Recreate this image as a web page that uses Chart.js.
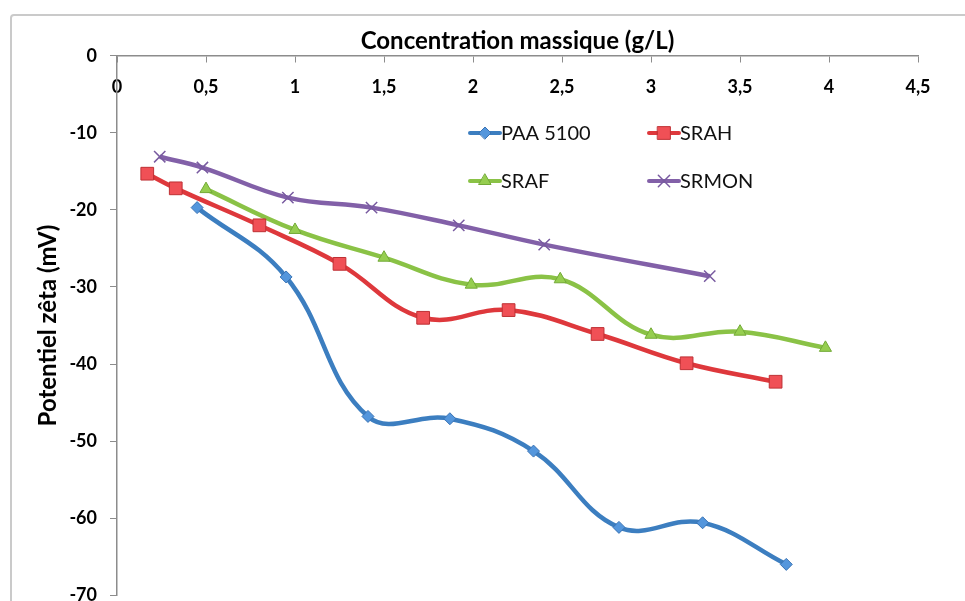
<!DOCTYPE html>
<html>
<head>
<meta charset="utf-8">
<title>Potentiel zêta</title>
<script src="https://cdn.jsdelivr.net/npm/chart.js@4.4.1/dist/chart.umd.min.js"></script>
<style>
  html, body { margin: 0; padding: 0; background: #fff; overflow: hidden; }
  #wrap { position: relative; width: 965px; height: 619px; }
  #frame {
    position: absolute; left: 10px; top: 14px;
    width: 1000px; height: 700px;
    border: 2px solid #cacaca; border-radius: 4px; box-sizing: border-box;
  }
  canvas { position: absolute; left: 0; top: 0; }
</style>
</head>
<body>
<div id="wrap">
  <div id="frame"></div>
  <canvas id="myChart" width="965" height="619"></canvas>
</div>
<script>
// concentration (g/L) and zeta potential (mV) for each product
let paaX = [0.45, 0.95, 1.41, 1.87, 2.34, 2.82, 3.29, 3.76];
let paaY = [-19.7, -28.7, -46.8, -47.1, -51.3, -61.2, -60.6, -66.0];

let srahX = [0.17, 0.33, 0.80, 1.25, 1.72, 2.20, 2.70, 3.20, 3.70];
let srahY = [-15.3, -17.2, -22.0, -27.0, -34.0, -33.0, -36.1, -39.9, -42.3];

let srafX = [0.50, 1.00, 1.50, 1.99, 2.49, 3.00, 3.50, 3.98];
let srafY = [-17.3, -22.6, -26.2, -29.7, -29.0, -36.2, -35.8, -37.9];

let srmonX = [0.24, 0.48, 0.96, 1.43, 1.92, 2.40, 3.33];
let srmonY = [-13.1, -14.5, -18.4, -19.7, -22.0, -24.5, -28.6];

let seriesNames = ["PAA 5100", "SRAH", "SRAF", "SRMON"];

function toPoints(xs, ys) {
	return xs.map(function (x, i) {
		return { x: x, y: ys[i] };
	});
}

const FONT = "Lato, 'Open Sans', sans-serif";

// legend drawn inside the plot, two columns, line + marker like the series
const insideLegend = {
	id: "insideLegend",
	afterDraw(chart) {
		const ctx = chart.ctx;
		const spots = [[470, 133], [649, 133], [470, 181], [649, 181]];
		chart.data.datasets.forEach(function (ds, i) {
			const [lx, ly] = spots[i];
			ctx.save();
			ctx.strokeStyle = ds.borderColor;
			ctx.lineWidth = 4;
			ctx.lineCap = "round";
			ctx.beginPath();
			ctx.moveTo(lx, ly);
			ctx.lineTo(lx + 30, ly);
			ctx.stroke();
			ctx.fillStyle = ds.pointBackgroundColor;
			ctx.strokeStyle = ds.pointBorderColor;
			ctx.lineWidth = ds.pointBorderWidth;
			Chart.helpers.drawPoint(ctx, {
				pointStyle: ds.pointStyle,
				radius: ds.pointRadius,
				borderWidth: ds.pointBorderWidth,
				rotation: 0
			}, lx + 15, ly);
			ctx.fillStyle = "#111";
			ctx.font = "20px " + FONT;
			ctx.textBaseline = "middle";
			ctx.textAlign = "left";
			ctx.fillText(ds.label, lx + 31, ly + 1);
			ctx.restore();
		});
	}
};

var ctx = document.getElementById("myChart");
var chart = new Chart(ctx, {
	type: "line",
	data: {
		datasets: [
			{
				label: seriesNames[0],
				data: toPoints(paaX, paaY),
				borderColor: "rgb(60, 126, 192)",
				borderWidth: 4.5,
				pointStyle: "rectRot",
				pointRadius: 6,
				pointBackgroundColor: "rgb(84, 150, 220)",
				pointBorderColor: "rgb(58, 115, 180)",
				pointBorderWidth: 1
			},
			{
				label: seriesNames[1],
				data: toPoints(srahX, srahY),
				borderColor: "rgb(222, 56, 60)",
				borderWidth: 4.5,
				pointStyle: "rect",
				pointRadius: 9,
				pointBackgroundColor: "rgb(240, 80, 86)",
				pointBorderColor: "rgb(190, 48, 52)",
				pointBorderWidth: 1
			},
			{
				label: seriesNames[2],
				data: toPoints(srafX, srafY),
				borderColor: "rgb(138, 194, 70)",
				borderWidth: 4.5,
				pointStyle: "triangle",
				pointRadius: 7,
				pointBackgroundColor: "rgb(150, 206, 80)",
				pointBorderColor: "rgb(115, 170, 55)",
				pointBorderWidth: 1
			},
			{
				label: seriesNames[3],
				data: toPoints(srmonX, srmonY),
				borderColor: "rgb(130, 96, 168)",
				borderWidth: 4.5,
				pointStyle: "crossRot",
				pointRadius: 8,
				pointBackgroundColor: "rgb(120, 90, 160)",
				pointBorderColor: "rgb(120, 90, 160)",
				pointBorderWidth: 1.5
			}
		]
	},
	options: {
		responsive: false,
		animation: false,
		layout: { padding: { top: 0, right: 47, bottom: 14, left: 0 } },
		plugins: {
			legend: { display: false },
			tooltip: { enabled: false },
			title: {
				display: true,
				text: "Concentration massique (g/L)",
				fullSize: false,
				color: "#000",
				font: { family: FONT, size: 24, weight: "bold" },
				padding: { top: 27, bottom: 0 }
			}
		},
		elements: { line: { tension: 0.4 } },
		scales: {
			x: {
				type: "linear",
				position: { y: 0 },
				min: 0,
				max: 4.5,
				ticks: {
					stepSize: 0.5,
					padding: 15,
					color: "#000",
					font: { family: FONT, size: 18, weight: "bold" },
					callback: function (v) { return String(v).replace(".", ","); }
				},
				grid: { drawOnChartArea: false, drawTicks: true, tickLength: 6, color: "#8c8c8c" },
				border: { color: "#8c8c8c", width: 1.5 }
			},
			y: {
				min: -70,
				max: 0,
				afterFit: function (scale) { scale.width = 117; },
				ticks: {
					stepSize: 10,
					padding: 13,
					color: "#000",
					font: { family: FONT, size: 18, weight: "bold" }
				},
				grid: { drawOnChartArea: false, drawTicks: true, tickLength: 7, color: "#8c8c8c" },
				border: { color: "#8c8c8c", width: 1.5 },
				title: {
					display: true,
					text: "Potentiel zêta (mV)",
					color: "#000",
					font: { family: FONT, size: 24, weight: "bold" },
					padding: { top: 34, bottom: 0 }
				}
			}
		}
	},
	plugins: [insideLegend]
});
</script>
</body>
</html>
